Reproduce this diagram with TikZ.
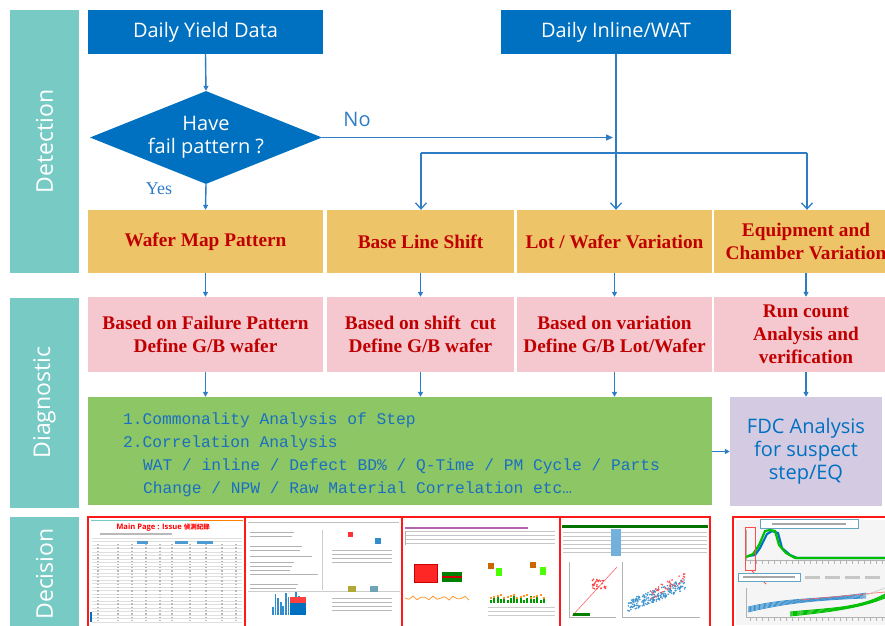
\documentclass[tikz,border=0pt]{standalone}
\usepackage{fontspec}
\setmainfont{Liberation Serif}
\newfontfamily\uisans{Open Sans}
\newfontfamily\monof{Liberation Mono}
\newfontfamily\cjkf{Noto Sans CJK TC}
\usetikzlibrary{arrows.meta,shapes.geometric}
\definecolor{bandcol}{HTML}{78CBC5}
\definecolor{boxblue}{HTML}{0070C0}
\definecolor{yelcol}{HTML}{EDC568}
\definecolor{pinkcol}{HTML}{F5C8CF}
\definecolor{greencol}{HTML}{8CC665}
\definecolor{lavcol}{HTML}{D4CBE3}
\definecolor{darkred}{HTML}{C00000}
\definecolor{linecol}{HTML}{2E7CC6}
\definecolor{txtblue}{HTML}{1B6FC2}
\definecolor{shotred}{HTML}{FF1A1A}
\tikzset{
  band/.style={fill=bandcol, inner sep=0pt, minimum width=69pt},
  bandlabel/.style={rotate=90, text=white, inner sep=0pt, font=\uisans\fontsize{23}{26}\selectfont},
  bluebox/.style={fill=boxblue, text=white, inner sep=0pt, minimum height=44pt, font=\uisans\fontsize{20}{23}\selectfont},
  yelbox/.style={fill=yelcol, text=darkred, inner sep=0pt, minimum height=63pt, align=center, font=\bfseries\fontsize{19.3}{23}\selectfont},
  pinkbox/.style={fill=pinkcol, text=darkred, inner sep=0pt, minimum height=75pt, align=center, font=\bfseries\fontsize{19.3}{23}\selectfont},
  monoline/.style={anchor=base west, inner sep=0pt, text=txtblue, font=\monof\fontsize{16.25}{23}\selectfont},
  arr/.style={draw=linecol, line width=1.4pt, -{Triangle[length=5pt,width=5pt]}},
  barb/.style={draw=linecol, line width=1.3pt, -{Straight Barb[length=6pt,width=11pt]}},
  plain/.style={draw=linecol, line width=1.3pt},
  shot/.style={draw=shotred, line width=2.5pt, fill=white, inner sep=0pt},
  lbl/.style={text=linecol, inner sep=0pt},
}
\begin{document}
\begin{tikzpicture}[x=1pt,y=-1pt]
\useasboundingbox (0,0) rectangle (885,625);
\clip (0,0) rectangle (885,625);

% ---- side bands ----
\node[band, minimum height=263pt] (bdet) at (44.5,141.5) {};
\node[bandlabel] (ldet) at (bdet.center) {Detection};
\node[band, minimum height=210pt] (bdia) at (44.5,402.5) {};
\node[bandlabel] (ldia) at (bdia.center) {Diagnostic};
\node[band, minimum height=120pt] (bdec) at (44.5,577) {};
\node[bandlabel] (ldec) at ([yshift=3pt]bdec.center) {Decision};

% ---- top boxes ----
\node[bluebox, minimum width=235pt] (yield) at (205.5,32) {Daily Yield Data};
\node[bluebox, minimum width=230pt] (inline) at (616,32) {Daily Inline/WAT};

\node[diamond, aspect=2.5, fill=boxblue, text=white, inner sep=0pt,
      minimum width=232pt, minimum height=93pt, align=center,
      font=\uisans\fontsize{20}{23}\selectfont] (dia) at (206,137.5) {Have\\fail pattern ?};

% ---- yellow row ----
\node[yelbox, minimum width=235pt] (y1) at (205.5,241.5) {Wafer Map Pattern};
\node[yelbox, minimum width=187pt] (y2) at (420.5,241.5) {Base Line Shift};
\node[yelbox, minimum width=195pt] (y3) at (614.5,241.5) {Lot / Wafer Variation};
\node[yelbox, minimum width=184pt] (y4) at (806,241.5) {Equipment and\\Chamber Variation};

% ---- pink row ----
\node[pinkbox, minimum width=235pt] (p1) at (205.5,334.5) {Based on Failure Pattern\\Define G/B wafer};
\node[pinkbox, minimum width=187pt] (p2) at (420.5,334.5) {Based on shift\ \ cut\\Define G/B wafer};
\node[pinkbox, minimum width=195pt] (p3) at (614.5,334.5) {Based on variation\\Define G/B Lot/Wafer};
\node[pinkbox, minimum width=184pt] (p4) at (806,334.5) {Run count\\Analysis and\\verification};

% ---- green & lavender ----
\node[fill=greencol, inner sep=0pt, minimum width=624pt, minimum height=108pt] (g) at (400,451) {};
\node[monoline] (g1) at (123,424) {1.Commonality Analysis of Step};
\node[monoline] (g2) at (123,447) {2.Correlation Analysis};
\node[monoline] (g3) at (143,470) {WAT / inline / Defect BD\% / Q-Time / PM Cycle / Parts};
\node[monoline] (g4) at (143,493) {Change / NPW / Raw Material Correlation etc\textellipsis};

\node[fill=lavcol, inner sep=0pt, minimum width=152pt, minimum height=109pt, align=center,
      text=boxblue, font=\uisans\fontsize{20}{23}\selectfont] (fdc) at (806,451.5) {FDC Analysis\\for suspect\\step/EQ};

% ---- connectors ----
\draw[arr] (yield.south) -- (dia.north);
\draw[arr] (dia.south) -- (y1.north);
\coordinate (noend) at (613,137.5);
\draw[draw=linecol, line width=1.3pt, -{Triangle[length=7pt,width=6pt]}] (dia.east) -- (noend);
\node[lbl, font=\uisans\fontsize{20}{23}\selectfont] (nolbl) at (357,119) {No};
\node[lbl, font=\fontsize{18}{20}\selectfont] (yeslbl) at (159,189) {Yes};

\coordinate (j0) at (616,153);
\coordinate (j1) at (421,153);
\coordinate (j2) at (807,153);
\draw[barb] (inline.south) -- (inline.south |- y3.north);
\draw[plain] (j0) -- (j1);
\draw[barb] (j1) -- (j1 |- y2.north);
\draw[plain] (j0) -- (j2);
\draw[barb] (j2) -- (j2 |- y4.north);

\draw[arr] (y1.south) -- (p1.north);
\draw[arr] (y2.south) -- (p2.north);
\draw[arr] (y3.south) -- (p3.north);
\draw[arr] (y4.south) -- (p4.north);

\draw[arr] (p1.south) -- (p1.south |- g.north);
\draw[arr] (p2.south) -- (p2.south |- g.north);
\draw[arr] (p3.south) -- (p3.south |- g.north);
\draw[arr] (p4.south) -- (fdc.north);
\draw[arr] (g.east |- fdc.west) -- (fdc.west);

% ---- decision screenshots ----
\node[shot, minimum width=157pt, minimum height=114pt] (sA) at (166.5,574) {};
\node[shot, minimum width=157pt, minimum height=114pt] (sB) at (323.5,574) {};
\node[shot, minimum width=158pt, minimum height=114pt] (sC) at (481,574) {};
\node[shot, minimum width=150pt, minimum height=114pt] (sD) at (635,574) {};
\node[shot, minimum width=157pt, minimum height=114pt] (sE) at (811.5,574) {};

% screenshot A
\fill[bandcol] (91,519.5) rectangle (190,521.2);
\fill[orange] (190,519.5) rectangle (243,521.2);
\node[text=red, inner sep=0pt, font=\uisans\bfseries\fontsize{7.6}{8}\selectfont] (mainp) at (163,527.5) {Main Page : Issue {\cjkf\fontsize{6.5}{8}\selectfont 偵測紀錄}};
\fill[gray!55] (100,533) rectangle (172,534.5);
\foreach \yy in {538,541.5,...,623} \draw[gray!25, line width=0.3pt] (92,\yy) -- (242,\yy);
\foreach \xx in {98,118,132,146,160,172,190,206,222,236}
  \draw[gray!55, line width=1.3pt, dash pattern=on 1.3pt off 2pt] (\xx,544) -- (\xx,622);
\fill[boxblue!70] (137,541) rectangle (148,543.5);
\fill[boxblue!70] (175,541) rectangle (188,543.5);
\fill[boxblue!70] (197,541) rectangle (213,543.5);
\fill[boxblue] (90,612) rectangle (92,622);

% screenshot B
\draw[gray!50, line width=1pt] (248,522) -- (399,522);
\foreach \yy in {532,536,546,550,556,562,566,570,574,584,588}
  \draw[gray!60, line width=0.9pt] (250,\yy) -- ({250+40+mod(\yy*7,30)},\yy);
\draw[gray!40, line width=0.6pt] (322,530) -- (322,590);
\draw[gray!40, line width=0.6pt] (248,591) -- (400,591);
\foreach \i in {0,...,12}{
  \fill[boxblue!80] ({272+2.6*\i},{615-8-mod(\i*13,17)}) rectangle ({273.8+2.6*\i},615);}
\fill[red!75] (290,597) rectangle (306,603);
\fill[boxblue] (290,603) rectangle (306,615);
\fill[red!80] (348,532) rectangle (353,537);
\fill[boxblue!80] (375,538) rectangle (381,544);
\foreach \yy in {550,554,558,562} \draw[gray!55, line width=0.8pt] (332,\yy) -- (392,\yy);
\fill[olive!70] (348,586) rectangle (356,592);
\fill[cyan!40!gray] (370,586) rectangle (378,592);
\foreach \yy in {598,602,606,610} \draw[gray!55, line width=0.8pt] (332,\yy) -- (392,\yy);

% screenshot C
\fill[violet!60] (405,526.5) rectangle (528,528.5);
\foreach \yy in {531,535,539,543} \draw[gray!45, line width=0.5pt] (405,\yy) -- (555,\yy);
\draw[gray!60, line width=0.8pt] (405,531) -- (405,545);
\fill[red!80!black] (414,564) rectangle (438,583);
\fill[red!85] (415,565) rectangle (437,582);
\fill[green!50!black] (442,572) rectangle (462,582);
\fill[red!80!black] (442,576) rectangle (462,578);
\fill[orange!80!black] (488,563) rectangle (494,569);
\fill[green!70!yellow] (496,568) rectangle (502,576);
\fill[orange!80!black] (530,562) rectangle (536,568);
\fill[green!70!yellow] (540,567) rectangle (546,575);
\draw[orange!80, line width=0.8pt] (405,598) \foreach \i in {1,...,16}{ -- ({405+4*\i},{598+2*sin(\i*140)})};
\foreach \i in {0,...,16}{
  \fill[green!60!black] ({490+3.3*\i},{603-3-mod(\i*7,5)}) rectangle ({492+3.3*\i},603);
  \fill[orange!85] ({490+3.3*\i},{597-mod(\i*5,4)}) rectangle ({492+3.3*\i},{599-mod(\i*5,4)});}
\foreach \yy in {607,611,615} \draw[gray!40, line width=0.5pt] (488,\yy) -- (555,\yy);

% screenshot D
\fill[green!45!black] (562,524.5) rectangle (708,528);
\foreach \yy in {532,536,540,544,548,552} \draw[gray!45, line width=0.5pt] (563,\yy) -- (707,\yy);
\fill[boxblue!55] (611,529) rectangle (621,556);
\draw[gray!60, line width=0.5pt] (569,562) -- (569,617) -- (616,617);
\draw[red!60, line width=0.6pt] (572,616) -- (617,567);
\pgfmathsetseed{7}
\foreach \i in {1,...,30}{
  \fill[red!75] ({592+14*rnd},{579+10*rnd}) circle (0.9pt);}
\fill[green!50!black] (573,613) rectangle (590,616);
\draw[gray!60, line width=0.5pt] (622,562) -- (622,617) -- (700,617);
\foreach \i in {1,...,220}{
  \pgfmathsetmacro\uu{rnd}\pgfmathsetmacro\vv{rnd}
  \fill[boxblue!75] ({628+58*\uu},{612-22*\uu-12*\vv}) circle (0.9pt);}
\foreach \i in {1,...,40}{
  \pgfmathsetmacro\uu{rnd}\pgfmathsetmacro\vv{rnd}
  \fill[red!70] ({650+35*\uu},{600-18*\uu-10*\vv}) circle (0.9pt);}

% screenshot E
\fill[gray!8] (736,520) rectangle (885,625);
\draw[cyan!50!gray, fill=white, line width=0.7pt] (760,519.5) rectangle (858,528);
\fill[gray!70] (772,522.5) rectangle (846,525);
\draw[gray!60, line width=0.5pt] (746,530) -- (746,560) -- (885,560);
\foreach \xx in {750,756,...,885} \draw[gray!60, line width=0.6pt] (\xx,561) -- (\xx,564);
\draw[boxblue, line width=2.2pt] (748,556) -- (755,555) -- (760,548) -- (767,534) -- (772,531) -- (778,533) -- (782,548) -- (790,555) -- (797,558) -- (885,558);
\draw[green!75!black, line width=2.2pt] (746,557) -- (753,554) -- (759,545) -- (765,531) -- (770,530) -- (775,531) -- (779,545) -- (786,553) -- (795,558) -- (885,558);
\draw[red!70, line width=0.8pt] (745,527) rectangle (755,570);
\draw[red!70, line width=0.8pt] (752,571) -- (766,584);
\draw[cyan!50!gray, fill=white, line width=0.7pt] (738,573) rectangle (800,581);
\fill[gray!70] (743,576) rectangle (795,578);
\foreach \xx in {805,825,845,865} \fill[gray!45] (\xx,576) rectangle (\xx+15,579);
\draw[gray!60, line width=0.5pt] (746,588) -- (746,617) -- (885,617);
\foreach \xx in {750,756,...,885} \draw[gray!60, line width=0.6pt] (\xx,618) -- (\xx,621);
\foreach \k in {0,...,5}
  \draw[boxblue!80, line width=0.7pt] (748,{612-\k}) .. controls (790,{602-\k}) and (820,600) .. (866,{598-\k});
\foreach \k in {0,...,4}
  \draw[green!75!black, line width=0.9pt] (790,{616-\k}) .. controls (830,{612-\k}) and (860,608) .. (885,{598-\k});
\draw[red!60, line width=0.6pt] (800,600) -- (885,592);
\draw[gray!50, line width=0.5pt] (860,597) -- (885,588);

\end{tikzpicture}
\end{document}
